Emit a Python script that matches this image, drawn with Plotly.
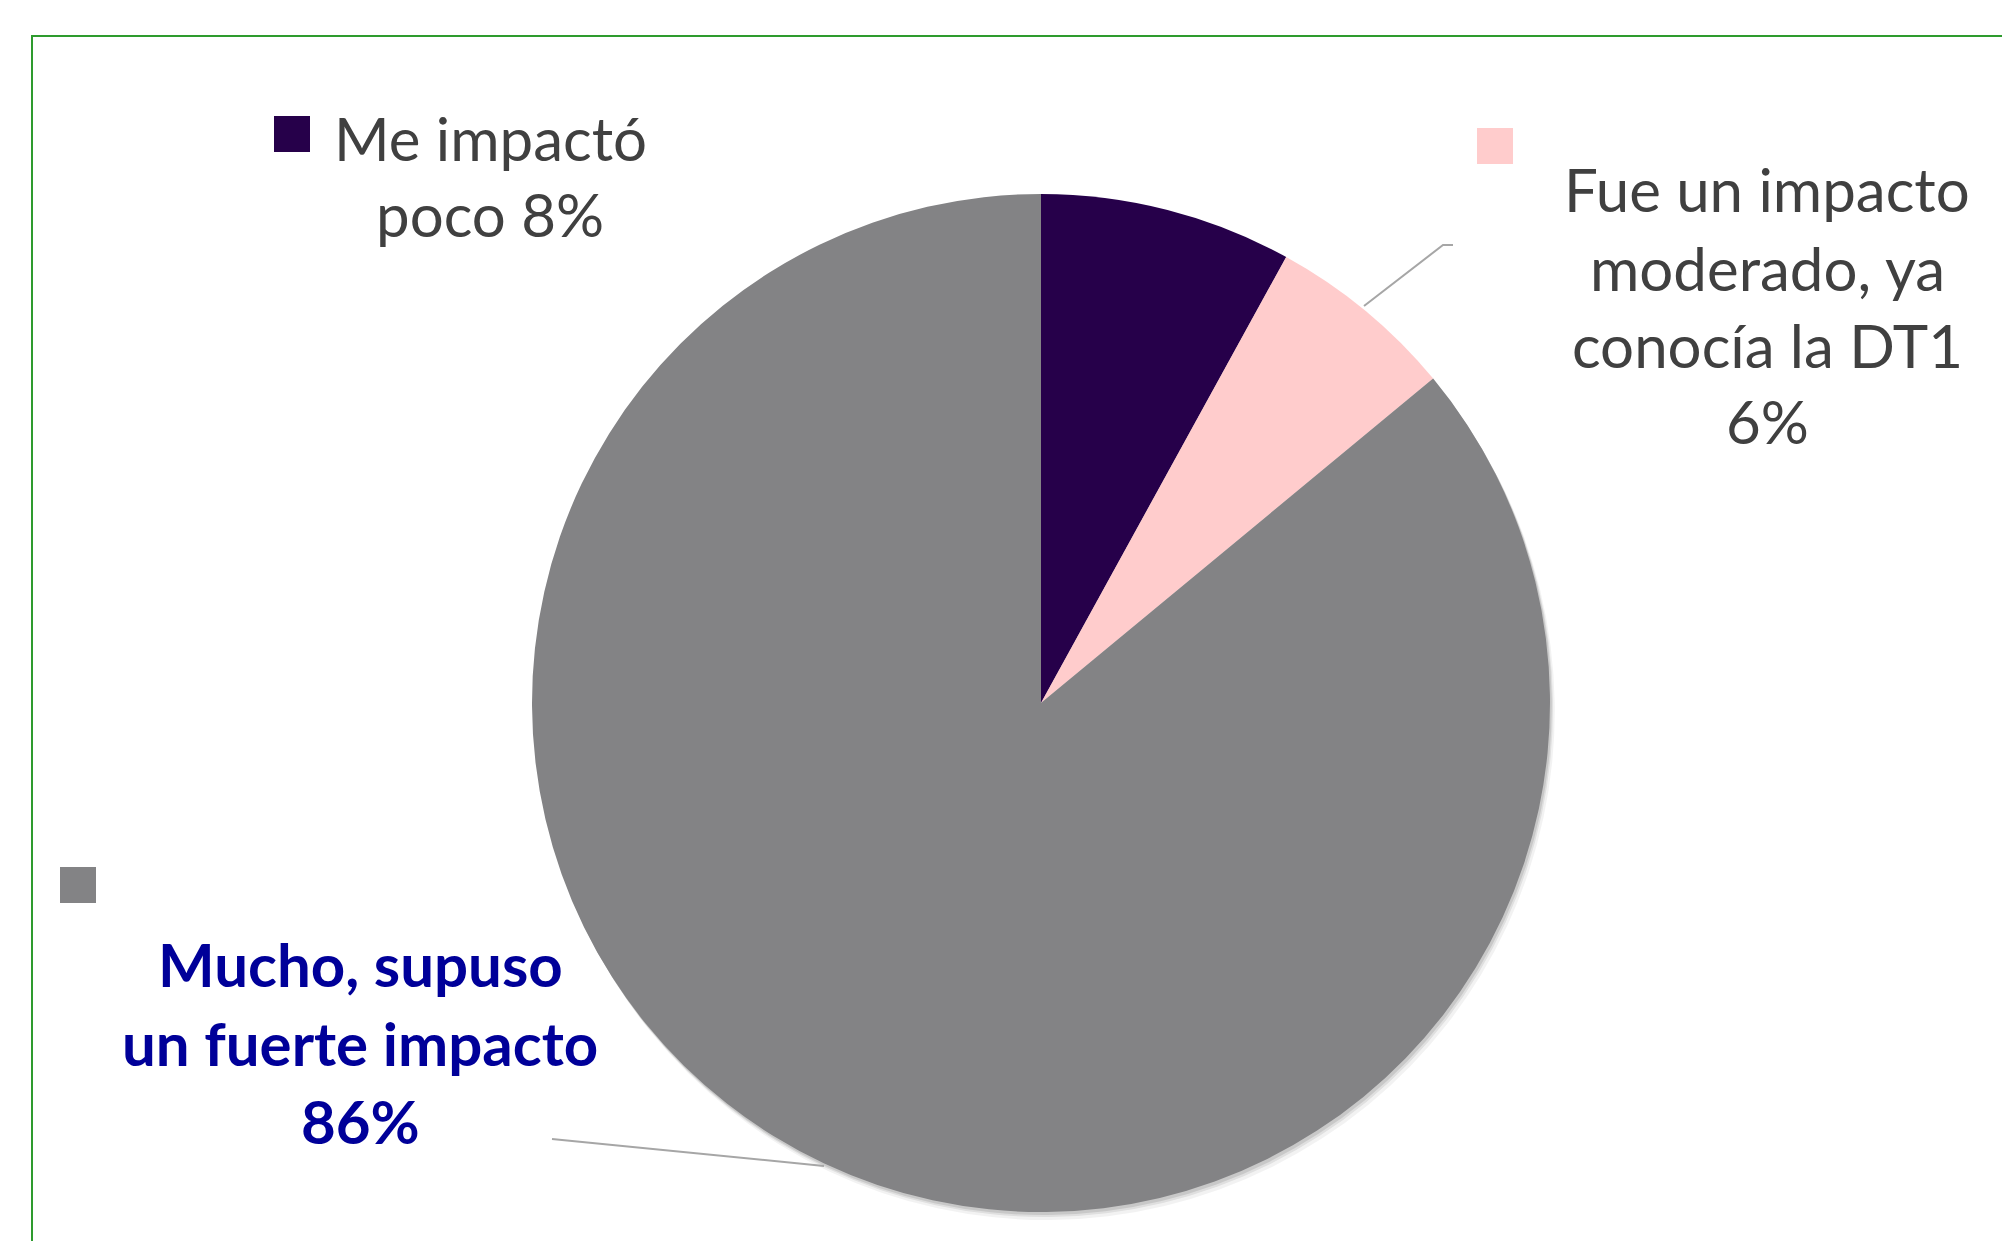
import plotly.graph_objects as go

W, H = 2002, 1241

categories = ["Me impactó poco", "Fue un impacto moderado, ya conocía la DT1", "Mucho, supuso un fuerte impacto"]
values = [8, 6, 86]
colors = ["#26004A", "#FFCCCC", "#838385"]

label_lines = [
    ["Me impactó", "poco 8%"],
    ["Fue un impacto", "moderado, ya", "conocía la DT1", "6%"],
    ["Mucho, supuso", "un fuerte impacto", "86%"],
]

# layout helpers (pixel positions)
cx, cy, R = 1041, 703, 509

def px(x):
    return x / W

def py(y):
    return 1 - y / H

def dom(dx=0, dy=0):
    return dict(x=[px(cx - R + dx), px(cx + R + dx)], y=[py(cy + R + dy), py(cy - R + dy)])

fig = go.Figure()

# soft shadow
for off, a in [(8, 0.05), (5, 0.08), (3, 0.10)]:
    fig.add_trace(go.Pie(
        values=values, labels=categories, sort=False, direction="clockwise", rotation=0,
        marker=dict(colors=[f"rgba(0,0,0,{a})"] * 3, line=dict(width=0)),
        textinfo="none", hoverinfo="skip", showlegend=False, domain=dom(off * 0.6, off),
    ))

fig.add_trace(go.Pie(
    values=values, labels=categories, sort=False, direction="clockwise", rotation=0,
    marker=dict(colors=colors, line=dict(width=0)),
    textinfo="none", showlegend=False, domain=dom(),
))

FONT = "Lato, 'Open Sans', sans-serif"
annotations = []
shapes = []

def add_lines(lines, xc, ys, size, color, bold=False):
    for t, y in zip(lines, ys):
        txt = f"<b>{t}</b>" if bold else t
        annotations.append(dict(
            text=txt, x=px(xc), y=py(y), xref="paper", yref="paper",
            xanchor="center", yanchor="middle", showarrow=False,
            font=dict(family=FONT, size=size, color=color),
        ))

add_lines(label_lines[0], 490, [138, 214], 60, "#404040")
add_lines(label_lines[1], 1767, [189, 268, 345, 421], 60, "#404040")
add_lines(label_lines[2], 360, [964, 1043, 1121], 60, "#000099", bold=True)

# legend keys
for (x0, y0), c in zip([(274, 116), (1477, 128), (60, 867)], colors):
    shapes.append(dict(type="rect", xref="paper", yref="paper",
                       x0=px(x0), x1=px(x0 + 36), y0=py(y0 + 36), y1=py(y0),
                       fillcolor=c, line=dict(width=0)))

# leader lines
shapes.append(dict(type="path", xref="paper", yref="paper",
                   path=f"M {px(1364)},{py(306)} L {px(1443)},{py(245)} L {px(1453)},{py(245)}",
                   line=dict(color="#A6A6A6", width=2)))
shapes.append(dict(type="path", xref="paper", yref="paper",
                   path=f"M {px(552)},{py(1139)} L {px(562)},{py(1140)} L {px(824)},{py(1166)}",
                   line=dict(color="#A6A6A6", width=2)))

# green frame (extends beyond right/bottom)
shapes.append(dict(type="rect", xref="paper", yref="paper",
                   x0=px(32), x1=px(W + 20), y0=py(H + 20), y1=py(36),
                   line=dict(color="#2E9B2E", width=2), fillcolor="rgba(0,0,0,0)", layer="below"))

fig.update_layout(
    width=W, height=H, margin=dict(l=0, r=0, t=0, b=0),
    paper_bgcolor="white", plot_bgcolor="white",
    annotations=annotations, shapes=shapes, showlegend=False,
)

fig.write_html("out.html")
